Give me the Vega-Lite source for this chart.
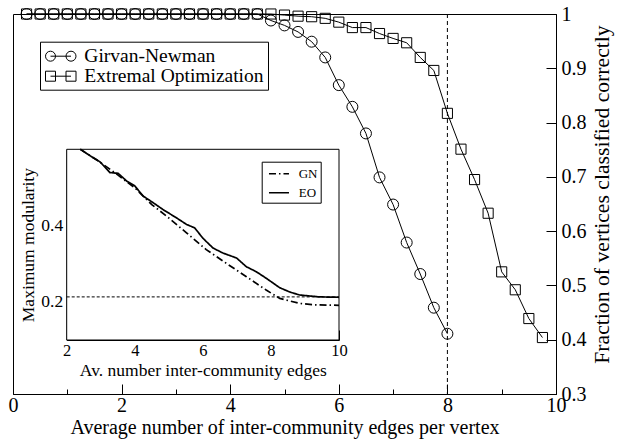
{
  "$schema": "https://vega.github.io/schema/vega-lite/v6.json",
  "width": 543,
  "height": 380,
  "autosize": {"type": "none"},
  "padding": {"left": 13, "top": 14, "right": 66, "bottom": 45},
  "background": "white",
  "config": {
    "font": "Liberation Serif",
    "view": {"stroke": "black", "strokeWidth": 1},
    "axis": {"domainColor": "black", "tickColor": "black", "labelColor": "black", "titleColor": "black", "grid": false, "labelFont": "Liberation Serif", "titleFont": "Liberation Serif", "titleFontWeight": "normal", "labelOverlap": false, "labelFlush": false, "zindex": 2},
    "legend": {"labelFont": "Liberation Serif", "labelColor": "black"}
  },
  "datasets": {
    "main": [
      {"x": 0.25, "y": 1, "series": "Extremal Optimization"},
      {"x": 0.5, "y": 1, "series": "Extremal Optimization"},
      {"x": 0.75, "y": 1, "series": "Extremal Optimization"},
      {"x": 1, "y": 1, "series": "Extremal Optimization"},
      {"x": 1.25, "y": 1, "series": "Extremal Optimization"},
      {"x": 1.5, "y": 1, "series": "Extremal Optimization"},
      {"x": 1.75, "y": 1, "series": "Extremal Optimization"},
      {"x": 2, "y": 1, "series": "Extremal Optimization"},
      {"x": 2.25, "y": 1, "series": "Extremal Optimization"},
      {"x": 2.5, "y": 1, "series": "Extremal Optimization"},
      {"x": 2.75, "y": 1, "series": "Extremal Optimization"},
      {"x": 3, "y": 1, "series": "Extremal Optimization"},
      {"x": 3.25, "y": 1, "series": "Extremal Optimization"},
      {"x": 3.5, "y": 1, "series": "Extremal Optimization"},
      {"x": 3.75, "y": 1, "series": "Extremal Optimization"},
      {"x": 4, "y": 1, "series": "Extremal Optimization"},
      {"x": 4.25, "y": 1, "series": "Extremal Optimization"},
      {"x": 4.5, "y": 1, "series": "Extremal Optimization"},
      {"x": 4.75, "y": 1, "series": "Extremal Optimization"},
      {"x": 5, "y": 0.998, "series": "Extremal Optimization"},
      {"x": 5.25, "y": 0.996, "series": "Extremal Optimization"},
      {"x": 5.5, "y": 0.995, "series": "Extremal Optimization"},
      {"x": 5.75, "y": 0.992, "series": "Extremal Optimization"},
      {"x": 6, "y": 0.985, "series": "Extremal Optimization"},
      {"x": 6.25, "y": 0.975, "series": "Extremal Optimization"},
      {"x": 6.5, "y": 0.975, "series": "Extremal Optimization"},
      {"x": 6.75, "y": 0.964, "series": "Extremal Optimization"},
      {"x": 7, "y": 0.955, "series": "Extremal Optimization"},
      {"x": 7.25, "y": 0.947, "series": "Extremal Optimization"},
      {"x": 7.5, "y": 0.92, "series": "Extremal Optimization"},
      {"x": 7.75, "y": 0.896, "series": "Extremal Optimization"},
      {"x": 8, "y": 0.817, "series": "Extremal Optimization"},
      {"x": 8.25, "y": 0.751, "series": "Extremal Optimization"},
      {"x": 8.5, "y": 0.695, "series": "Extremal Optimization"},
      {"x": 8.75, "y": 0.633, "series": "Extremal Optimization"},
      {"x": 9, "y": 0.525, "series": "Extremal Optimization"},
      {"x": 9.25, "y": 0.492, "series": "Extremal Optimization"},
      {"x": 9.5, "y": 0.439, "series": "Extremal Optimization"},
      {"x": 9.75, "y": 0.404, "series": "Extremal Optimization"},
      {"x": 0.25, "y": 1, "series": "Girvan-Newman"},
      {"x": 0.5, "y": 1, "series": "Girvan-Newman"},
      {"x": 0.75, "y": 1, "series": "Girvan-Newman"},
      {"x": 1, "y": 1, "series": "Girvan-Newman"},
      {"x": 1.25, "y": 1, "series": "Girvan-Newman"},
      {"x": 1.5, "y": 1, "series": "Girvan-Newman"},
      {"x": 1.75, "y": 1, "series": "Girvan-Newman"},
      {"x": 2, "y": 1, "series": "Girvan-Newman"},
      {"x": 2.25, "y": 1, "series": "Girvan-Newman"},
      {"x": 2.5, "y": 1, "series": "Girvan-Newman"},
      {"x": 2.75, "y": 1, "series": "Girvan-Newman"},
      {"x": 3, "y": 1, "series": "Girvan-Newman"},
      {"x": 3.25, "y": 1, "series": "Girvan-Newman"},
      {"x": 3.5, "y": 1, "series": "Girvan-Newman"},
      {"x": 3.75, "y": 1, "series": "Girvan-Newman"},
      {"x": 4, "y": 1, "series": "Girvan-Newman"},
      {"x": 4.25, "y": 1, "series": "Girvan-Newman"},
      {"x": 4.5, "y": 1, "series": "Girvan-Newman"},
      {"x": 4.75, "y": 0.988, "series": "Girvan-Newman"},
      {"x": 5, "y": 0.979, "series": "Girvan-Newman"},
      {"x": 5.25, "y": 0.967, "series": "Girvan-Newman"},
      {"x": 5.5, "y": 0.949, "series": "Girvan-Newman"},
      {"x": 5.75, "y": 0.92, "series": "Girvan-Newman"},
      {"x": 6, "y": 0.869, "series": "Girvan-Newman"},
      {"x": 6.25, "y": 0.829, "series": "Girvan-Newman"},
      {"x": 6.5, "y": 0.78, "series": "Girvan-Newman"},
      {"x": 6.75, "y": 0.699, "series": "Girvan-Newman"},
      {"x": 7, "y": 0.649, "series": "Girvan-Newman"},
      {"x": 7.25, "y": 0.579, "series": "Girvan-Newman"},
      {"x": 7.5, "y": 0.521, "series": "Girvan-Newman"},
      {"x": 7.75, "y": 0.459, "series": "Girvan-Newman"},
      {"x": 8, "y": 0.411, "series": "Girvan-Newman"}
    ],
    "inset": [
      {"x": 2.4, "y": 0.6, "series": "EO"},
      {"x": 2.69, "y": 0.583, "series": "EO"},
      {"x": 2.98, "y": 0.567, "series": "EO"},
      {"x": 3.27, "y": 0.539, "series": "EO"},
      {"x": 3.51, "y": 0.537, "series": "EO"},
      {"x": 3.76, "y": 0.517, "series": "EO"},
      {"x": 4.0, "y": 0.504, "series": "EO"},
      {"x": 4.25, "y": 0.477, "series": "EO"},
      {"x": 4.54, "y": 0.46, "series": "EO"},
      {"x": 4.83, "y": 0.442, "series": "EO"},
      {"x": 5.23, "y": 0.42, "series": "EO"},
      {"x": 5.52, "y": 0.403, "series": "EO"},
      {"x": 5.76, "y": 0.394, "series": "EO"},
      {"x": 6.0, "y": 0.367, "series": "EO"},
      {"x": 6.3, "y": 0.341, "series": "EO"},
      {"x": 6.59, "y": 0.328, "series": "EO"},
      {"x": 6.99, "y": 0.315, "series": "EO"},
      {"x": 7.28, "y": 0.292, "series": "EO"},
      {"x": 7.57, "y": 0.279, "series": "EO"},
      {"x": 7.86, "y": 0.262, "series": "EO"},
      {"x": 8.26, "y": 0.237, "series": "EO"},
      {"x": 8.55, "y": 0.226, "series": "EO"},
      {"x": 8.84, "y": 0.218, "series": "EO"},
      {"x": 9.43, "y": 0.213, "series": "EO"},
      {"x": 10.0, "y": 0.212, "series": "EO"},
      {"x": 2.4, "y": 0.6, "series": "GN"},
      {"x": 3.0, "y": 0.565, "series": "GN"},
      {"x": 3.5, "y": 0.533, "series": "GN"},
      {"x": 4.0, "y": 0.499, "series": "GN"},
      {"x": 4.5, "y": 0.455, "series": "GN"},
      {"x": 4.93, "y": 0.425, "series": "GN"},
      {"x": 5.52, "y": 0.381, "series": "GN"},
      {"x": 6.1, "y": 0.337, "series": "GN"},
      {"x": 6.69, "y": 0.301, "series": "GN"},
      {"x": 7.28, "y": 0.266, "series": "GN"},
      {"x": 7.86, "y": 0.231, "series": "GN"},
      {"x": 8.26, "y": 0.209, "series": "GN"},
      {"x": 8.84, "y": 0.196, "series": "GN"},
      {"x": 9.33, "y": 0.192, "series": "GN"},
      {"x": 10.0, "y": 0.191, "series": "GN"}
    ]
  },
  "layer": [
    {
      "layer": [
        {
          "data": {"values": [{"x": 8}]},
          "mark": {"type": "rule", "color": "black", "strokeWidth": 1, "strokeDash": [4, 3]},
          "encoding": {
            "x": {"field": "x", "type": "quantitative", "scale": {"domain": [0, 10], "nice": false}}
          }
        },
        {
          "data": {"name": "main"},
          "mark": {"type": "line", "color": "black", "strokeWidth": 1},
          "encoding": {
            "x": {"field": "x", "type": "quantitative", "scale": {"domain": [0, 10], "nice": false},
              "axis": {"orient": "bottom", "values": [0, 1, 2, 3, 4, 5, 6, 7, 8, 9, 10],
                "labelExpr": "datum.value % 2 === 0 ? format(datum.value, '~g') : ''",
                "tickSize": {"condition": {"test": "datum.value % 2 === 0", "value": -10}, "value": -5},
                "labelFontSize": 20, "labelPadding": 11,
                "title": "Average number of inter-community edges per vertex", "titleFontSize": 20, "titlePadding": -3}},
            "y": {"field": "y", "type": "quantitative", "scale": {"domain": [0.3, 1], "nice": false, "zero": false},
              "axis": {"orient": "right", "values": [0.3, 0.35, 0.4, 0.45, 0.5, 0.55, 0.6, 0.65, 0.7, 0.75, 0.8, 0.85, 0.9, 0.95, 1],
                "labelExpr": "abs(datum.value*10 - round(datum.value*10)) < 0.001 ? format(datum.value, '~g') : ''",
                "tickSize": {"condition": {"test": "abs(datum.value*10 - round(datum.value*10)) < 0.001", "value": -10}, "value": -5},
                "labelFontSize": 20, "labelPadding": 15, "labelBaseline": "middle",
                "title": "Fraction of vertices classified correctly", "titleFontSize": 21.7, "titleAngle": 270, "titleBaseline": "top", "titlePadding": 5, "titleY": 180}},
            "detail": {"field": "series"}
          }
        },
        {
          "data": {"name": "main"},
          "mark": {"type": "point", "filled": false, "color": "black", "strokeWidth": 1, "opacity": 1, "size": 121},
          "encoding": {
            "x": {"field": "x", "type": "quantitative", "scale": {"domain": [0, 10], "nice": false}},
            "y": {"field": "y", "type": "quantitative", "scale": {"domain": [0.3, 1], "nice": false, "zero": false}},
            "shape": {"field": "series", "type": "nominal",
              "scale": {"domain": ["Girvan-Newman", "Extremal Optimization"], "range": ["M-1,0A1,1 0 1,1 1,0A1,1 0 1,1 -1,0Z", "M-0.92,-0.92L0.92,-0.92L0.92,0.92L-0.92,0.92Z"]},
              "legend": null}
          }
        }
      ]
    },
    {
      "data": {"values": [{"series": "Girvan-Newman"}, {"series": "Extremal Optimization"}]},
      "mark": {"type": "point", "filled": false, "color": "black", "strokeWidth": 1, "opacity": 0},
      "encoding": {
        "shape": {"field": "series", "type": "nominal",
          "scale": {"domain": ["Girvan-Newman", "Extremal Optimization"], "range": ["M-0.4,0L1.65,0M-0.9,0A0.5,0.5 0 1,1 0.1,0A0.5,0.5 0 1,1 -0.9,0ZM1.15,0A0.5,0.5 0 1,1 2.15,0A0.5,0.5 0 1,1 1.15,0Z", "M-0.4,0L1.65,0M-0.9,-0.5L0.1,-0.5L0.1,0.5L-0.9,0.5ZM1.15,-0.5L2.15,-0.5L2.15,0.5L1.15,0.5Z"]},
          "legend": {"orient": "none", "legendX": 27, "legendY": 27.7, "title": null,
            "strokeColor": "black", "fillColor": "white", "padding": 4, "rowPadding": 0,
            "symbolSize": 400, "symbolStrokeColor": "black", "symbolStrokeWidth": 1, "symbolFillColor": "transparent", "symbolOpacity": 1,
            "labelFontSize": 19.5, "labelOffset": 19.3, "labelLimit": 400}}
      }
    },
    {
      "layer": [
        {
          "data": {"values": [{"x": 2, "x2": 10, "y": 0.1, "y2": 0.6}]},
          "mark": {"type": "rect", "fill": "white", "stroke": "black", "strokeWidth": 1},
          "encoding": {
            "x": {"field": "x", "type": "quantitative", "scale": {"domain": [2, 10], "nice": false, "range": [53.7, 326]},
              "axis": {"orient": "bottom", "offset": -54, "values": [2, 3, 4, 5, 6, 7, 8, 9, 10],
                "labelExpr": "datum.value % 2 === 0 ? format(datum.value, '~g') : ''",
                "tickSize": {"condition": {"test": "datum.value % 2 === 0", "value": -10}, "value": -5},
                "labelFontSize": 16.5, "labelPadding": 12,
                "title": "Av. number inter-community edges", "titleFontSize": 17.5, "titlePadding": -2}},
            "x2": {"field": "x2"},
            "y": {"field": "y", "type": "quantitative", "scale": {"domain": [0.1, 0.6], "nice": false, "zero": false, "range": [326, 135.3]},
              "axis": {"orient": "left", "offset": -53.7, "values": [0.2, 0.3, 0.4, 0.5],
                "labelExpr": "round(datum.value*10) % 2 === 0 ? format(datum.value, '~g') : ''",
                "tickSize": {"condition": {"test": "round(datum.value*10) % 2 === 0", "value": -10}, "value": -5},
                "labelFontSize": 17.5, "labelPadding": 14, "labelBaseline": "middle",
                "title": "Maximum modularity", "titleFontSize": 17.5, "titlePadding": 3}},
            "y2": {"field": "y2"}
          }
        },
        {
          "data": {"values": [{"x": 2, "x2": 10, "y": 0.213}]},
          "mark": {"type": "rule", "color": "black", "strokeWidth": 1, "strokeDash": [3, 2]},
          "encoding": {
            "x": {"field": "x", "type": "quantitative", "scale": {"domain": [2, 10], "nice": false, "range": [53.7, 326]}},
            "x2": {"field": "x2"},
            "y": {"field": "y", "type": "quantitative", "scale": {"domain": [0.1, 0.6], "nice": false, "zero": false, "range": [326, 135.3]}}
          }
        },
        {
          "data": {"name": "inset"},
          "mark": {"type": "line", "color": "black", "strokeWidth": 1.7},
          "encoding": {
            "x": {"field": "x", "type": "quantitative", "scale": {"domain": [2, 10], "nice": false, "range": [53.7, 326]}},
            "y": {"field": "y", "type": "quantitative", "scale": {"domain": [0.1, 0.6], "nice": false, "zero": false, "range": [326, 135.3]}},
            "strokeDash": {"field": "series", "type": "nominal",
              "scale": {"domain": ["GN", "EO"], "range": [[7, 3, 1.5, 3], [1, 0]]},
              "legend": {"orient": "none", "legendX": 248.7, "legendY": 147.7, "title": null,
                "strokeColor": "black", "fillColor": "white", "padding": 3, "rowPadding": 3,
                "symbolSize": 256, "symbolType": "M-0.59,0L1.91,0", "symbolStrokeWidth": 1.5, "symbolStrokeColor": "black",
                "labelFontSize": 13, "labelOffset": 16}}
          }
        }
      ]
    }
  ],
  "resolve": {"scale": {"x": "independent", "y": "independent", "shape": "independent"}}
}
